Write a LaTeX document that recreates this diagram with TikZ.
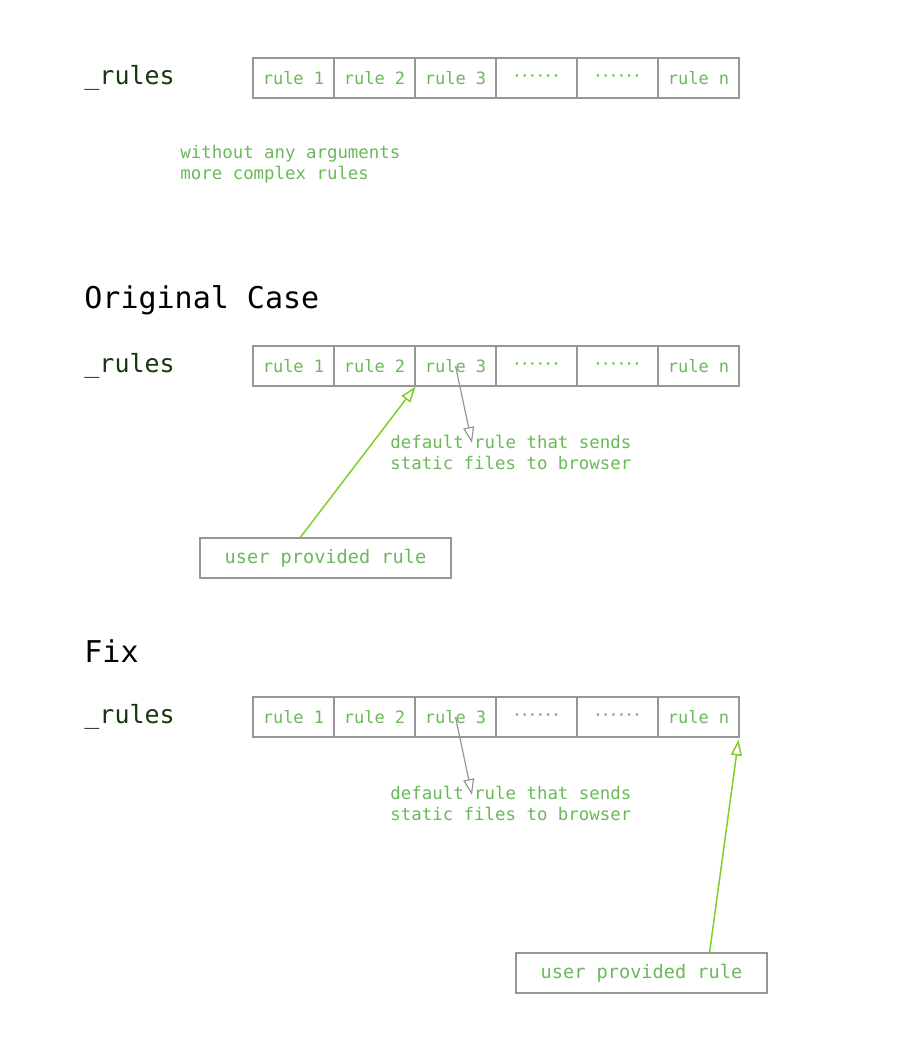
\documentclass[tikz,border=0pt]{standalone}
\usepackage{fontspec}
\setmonofont{DejaVu Sans Mono}
\usetikzlibrary{calc,arrows.meta}

\definecolor{notegreen}{RGB}{106,184,90}
\definecolor{dkgreen}{RGB}{22,54,14}
\definecolor{arrowgreen}{RGB}{126,206,40}
\definecolor{cellgray}{RGB}{150,150,150}

\begin{document}
\begin{tikzpicture}[x=0.5pt,y=-0.5pt,>={Triangle[open,length=8pt,width=5.5pt]},
  cell/.style={draw=cellgray,line width=0.55pt,minimum width=40.5pt,minimum height=20pt,inner sep=0pt,
    font=\ttfamily\fontsize{8.5}{10}\selectfont,text=notegreen},
  note/.style={anchor=west,align=left,inner sep=0pt,text=notegreen,font=\ttfamily\fontsize{8.7}{10.5}\selectfont},
  title/.style={anchor=west,inner sep=0pt,font=\ttfamily\fontsize{15}{18}\selectfont},
  listname/.style={anchor=west,inner sep=0pt,text=dkgreen,font=\ttfamily\fontsize{12.5}{15}\selectfont},
  userbox/.style={draw=cellgray,line width=0.55pt,minimum width=125.5pt,minimum height=20pt,inner sep=0pt,
    text=notegreen,font=\ttfamily\fontsize{9.3}{11}\selectfont}]
\useasboundingbox (0,0) rectangle (900,1050);

% the three lists of rules
\foreach \row/\y in {a/78,b/366,c/717}{
  \node[listname] (name_\row) at (84,\y) {\_rules};
  \foreach \lab [count=\i] in {rule 1,rule 2,rule 3,{\bfseries\fontsize{6.5}{6.5}\selectfont ······},{\bfseries\fontsize{6.5}{6.5}\selectfont ······},rule n}
    \node[cell] (cell_\row\i) at (293.5+81*\i-81,\y) {\raisebox{-1pt}{\lab}};
}

\node[note] (args_a) at (180,164.5) {without any arguments\\more complex rules};

% original case
\node[title] (orig) at (84,300) {Original Case};
\node[note] (def_b) at (390,452.5) {default rule that sends\\static files to browser};
\node[userbox] (user_b) at (325.5,558) {user provided rule};
\coordinate (tip_b) at (472,443);
\draw[cellgray,line width=0.6pt,->] (cell_b3.center) -- (tip_b);
\draw[arrowgreen,line width=0.75pt,->] ($(user_b.north west)!0.4!(user_b.north east)$) -- (cell_b2.south east);

% fix
\node[title] (fix) at (84,651) {Fix};
\node[note] (def_c) at (390,803.5) {default rule that sends\\static files to browser};
\node[userbox] (user_c) at (641.5,973) {user provided rule};
\coordinate (tip_c) at (472,795);
\draw[cellgray,line width=0.6pt,->] (cell_c3.center) -- (tip_c);
\draw[arrowgreen,line width=0.75pt,->] ($(user_c.north west)!0.77!(user_c.north east)$) -- ($(cell_c6.south east)+(-1,2)$);
\end{tikzpicture}
\end{document}
